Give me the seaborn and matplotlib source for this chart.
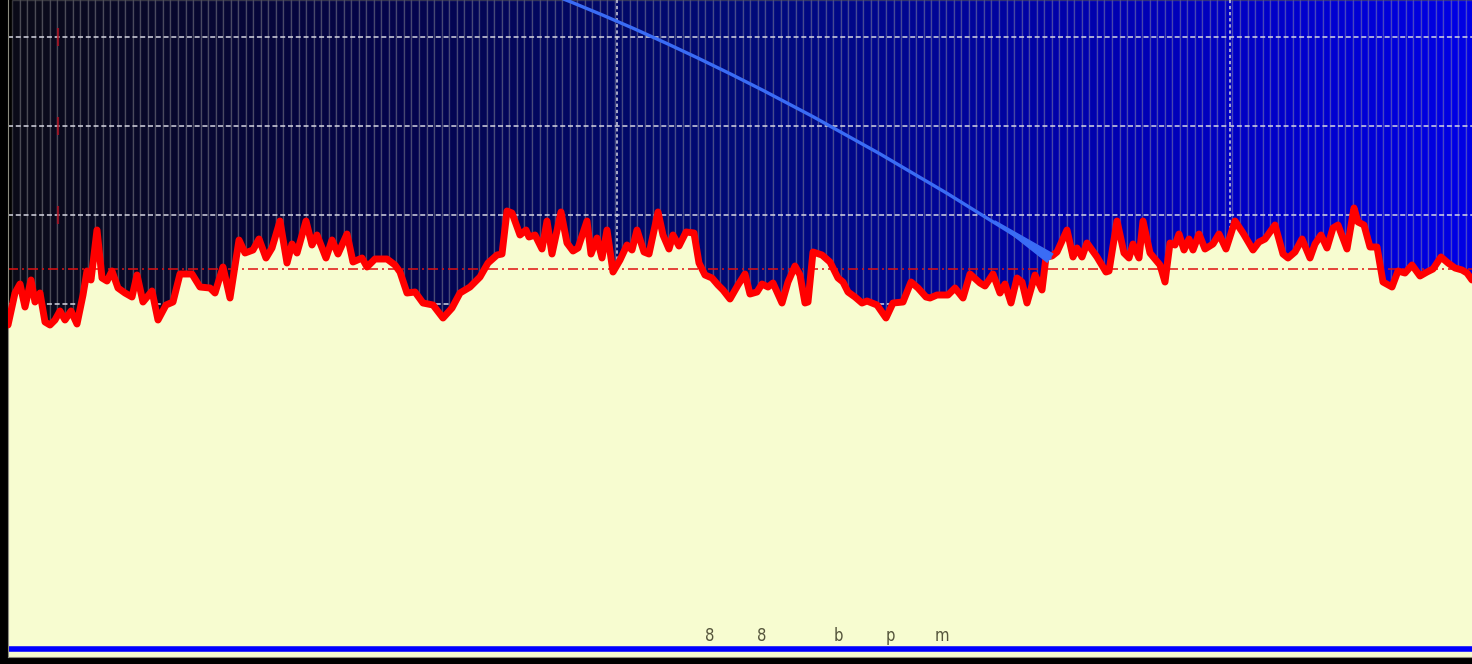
import matplotlib
matplotlib.use("Agg")
import matplotlib.pyplot as plt
import seaborn as sns
import pandas as pd
from matplotlib.patches import FancyArrowPatch
from matplotlib.path import Path

# ---- data ----
x_vals = [8, 15, 20, 25, 31, 35, 40, 45, 50, 55, 60, 65, 71, 77, 83, 87, 91, 97, 102, 107,
          112, 118, 125, 132, 137, 143, 152, 158, 166, 173, 180, 192, 200, 210, 215, 223, 230, 239, 245, 253,
          259, 266, 272, 280, 287, 292, 297, 306, 312, 317, 326, 332, 338, 347, 353, 362, 367, 375, 387, 395,
          400, 407, 415, 423, 433, 443, 452, 460, 470, 480, 488, 497, 502, 507, 512, 520, 526, 529, 535, 542,
          547, 552, 561, 567, 573, 578, 587, 591, 597, 602, 607, 613, 620, 627, 632, 637, 644, 649, 658, 663,
          669, 673, 679, 686, 694, 699, 705, 712, 718, 723, 730, 738, 745, 750, 757, 762, 768, 773, 782, 788,
          795, 800, 805, 808, 813, 822, 830, 838, 843, 848, 855, 862, 867, 872, 877, 886, 893, 903, 911, 918,
          926, 930, 937, 948, 955, 963, 970, 980, 985, 993, 1000, 1005, 1011, 1017, 1022, 1027, 1035, 1042, 1046, 1052,
          1057, 1067, 1073, 1077, 1082, 1087, 1097, 1106, 1109, 1117, 1124, 1129, 1133, 1139, 1143, 1150, 1160, 1165, 1170, 1175,
          1179, 1184, 1189, 1193, 1199, 1205, 1213, 1219, 1226, 1235, 1243, 1253, 1259, 1265, 1275, 1283, 1288, 1295, 1302, 1310,
          1315, 1321, 1327, 1333, 1338, 1347, 1354, 1358, 1364, 1370, 1377, 1383, 1392, 1398, 1405, 1412, 1420, 1427, 1433, 1441,
          1448, 1455, 1462, 1467, 1472]
y_vals = [339, 371, 380, 357, 384, 362, 371, 342, 339, 344, 353, 344, 353, 340, 369, 393, 384, 434, 386, 383,
          393, 376, 371, 367, 389, 362, 373, 344, 359, 362, 390, 390, 377, 376, 371, 397, 366, 424, 411, 414,
          425, 406, 416, 443, 401, 420, 411, 443, 419, 429, 406, 424, 410, 430, 402, 406, 397, 405, 405, 399,
          392, 371, 372, 361, 359, 346, 356, 371, 377, 387, 401, 409, 410, 453, 451, 429, 434, 427, 429, 415,
          443, 410, 452, 421, 413, 416, 443, 410, 426, 406, 434, 392, 404, 419, 414, 434, 412, 410, 452, 429,
          415, 429, 418, 432, 431, 401, 389, 386, 379, 374, 365, 379, 390, 370, 372, 380, 377, 381, 361, 382,
          398, 389, 361, 362, 412, 409, 402, 386, 382, 372, 367, 361, 363, 361, 359, 346, 361, 362, 382, 376,
          367, 366, 369, 369, 376, 366, 390, 381, 378, 390, 371, 380, 361, 386, 382, 361, 389, 374, 407, 408,
          412, 434, 407, 416, 407, 421, 407, 392, 393, 443, 411, 406, 420, 406, 443, 411, 399, 382, 421, 419,
          430, 414, 425, 414, 430, 415, 420, 430, 415, 443, 431, 414, 422, 425, 439, 410, 406, 412, 425, 406,
          420, 429, 416, 436, 439, 415, 456, 442, 439, 417, 417, 382, 377, 393, 391, 399, 388, 392, 395, 407,
          401, 396, 394, 391, 384]
mean_level = 395
floor_level = 15.5
grid_y = [360, 449, 538, 627]
grid_x = [617, 1230]
marker_x = [58, 58, 58]
marker_ymin = [440, 529, 618]
marker_ymax = [458, 547, 636]
labels = ["8", "8", "b", "p", "m"]
label_x = [710, 762, 838, 890, 942]
label_y = 23
arrow_pts = [(525, 680), (772, 587), (1050, 406)]
wedge_from = (1050, 406)
wedge_to = (995, 443)
bg_stops = ["#0a0a18", "#04044a", "#000a78", "#0000b0", "#0000e4"]
n_bg = 195

# ---- style ----
sns.set_theme(style="dark")
plt.rcParams['font.family'] = ['DejaVu Sans']
plt.rcParams['lines.scale_dashes'] = False

fig = plt.figure(figsize=(14.72, 6.64), dpi=100, facecolor='black')
rect = [8 / 1472, 7 / 664, 1464 / 1472, 657 / 664]

# background gradient of bars
ax_bg = fig.add_axes(rect, zorder=0)
bg_colors = sns.blend_palette(bg_stops, n_colors=n_bg)
bg_df = pd.DataFrame({"slot": [str(i) for i in range(n_bg)], "h": [1.0] * n_bg})
sns.barplot(data=bg_df, x="slot", y="h", hue="slot", palette=bg_colors, saturation=1,
            width=1, edgecolor=(1, 1, 1, 0.2), linewidth=1.0, legend=False, ax=ax_bg)
ax_bg.set_xlim(-1.07, 193.3)
ax_bg.set_ylim(0, 1)
ax_bg.set_axis_off()

# main axes
ax = fig.add_axes(rect, zorder=1)
ax.set_facecolor('none')
ax.set_xlim(8, 1472)
ax.set_ylim(7, 664)
ax.set_axisbelow(True)
ax.set_xticks(grid_x)
ax.set_yticks(grid_y)
ax.grid(False)
ax.yaxis.grid(True, color='#d6d6e2', linestyle=(0, (3.6, 2.0)), linewidth=1.1)
ax.xaxis.grid(True, color='#d6d6e2', linestyle=(0, (2.4, 2.0)), linewidth=1.1)
ax.tick_params(labelbottom=False, labelleft=False, length=0)
for s in ['top', 'right']:
    ax.spines[s].set_visible(False)
for s in ['left', 'bottom']:
    ax.spines[s].set_color('#8c8c80')
    ax.spines[s].set_linewidth(0.8)

ax.vlines(marker_x, marker_ymin, marker_ymax, color='#b01020', lw=1.6, alpha=0.8, zorder=0.8)

ax.fill_between(x_vals, y_vals, 0, color='#f7fcd0', linewidth=0, zorder=1)
ax.axhline(mean_level, color='#e01010', lw=1.1, linestyle=(0, (7.2, 2.9, 1.4, 2.9)), zorder=2)
ax.axhline(floor_level, color='#0000ff', lw=4.0, zorder=2.5)
sns.lineplot(x=x_vals, y=y_vals, color='#ff0000', lw=5, sort=False, estimator=None, ax=ax, zorder=3)

arrow_path = Path(arrow_pts, [Path.MOVETO, Path.CURVE3, Path.CURVE3])
ax.add_patch(FancyArrowPatch(path=arrow_path, arrowstyle='-', color='#3a6cf5', lw=2.4,
                             transform=ax.transData, zorder=4))
ax.add_patch(FancyArrowPatch(posA=wedge_from, posB=wedge_to,
                             arrowstyle='wedge,tail_width=0.6,shrink_factor=0.5',
                             mutation_scale=12, color='#3a6cf5', shrinkA=0, shrinkB=0,
                             connectionstyle='arc3,rad=0', zorder=4))

for lab, lx in zip(labels, label_x):
    ax.text(lx, label_y, lab, fontsize=12, color='#55553c', ha='center', va='baseline',
            fontstretch='ultra-condensed', zorder=5)

fig.savefig('out.png', dpi=100, facecolor='black')
